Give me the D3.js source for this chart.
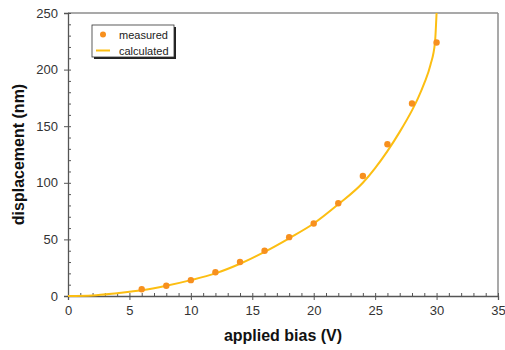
<!DOCTYPE html>
<html>
<head>
<meta charset="utf-8">
<script src="https://cdn.jsdelivr.net/npm/d3@7"></script>
<style>
  body { margin: 0; background: #fff; }
  text { font-family: "Liberation Sans", Arial, sans-serif; }
</style>
</head>
<body>
<svg id="svg" width="505" height="350"></svg>
<script>
// measured points (bias in V, displacement in nm)
let measuredBias = [6, 8, 10, 12, 14, 16, 18, 20, 22, 24, 26, 28, 30];
let measuredDisp = [6, 9, 14, 21, 30, 40, 52, 64, 82, 106, 134, 170, 224];

// calculated curve
let calcBias = [0, 2, 4, 6, 8, 10, 12, 14, 16, 18, 20, 22, 24, 25, 26, 27, 28, 28.5, 29, 29.5, 29.87, 30];
let calcDisp = [0, 0.5, 2.5, 5, 9, 14, 20, 28.5, 39, 51, 64, 81, 100, 113, 128, 145, 164, 175, 188, 204, 224, 250];

let xTicks = [0, 5, 10, 15, 20, 25, 30, 35];
let yTicks = [0, 50, 100, 150, 200, 250];

let svg = d3.select("#svg");
let plotLeft = 68, plotRight = 498, plotTop = 13, plotBottom = 296;

let x = d3.scaleLinear().domain([0, 35]).range([plotLeft, plotRight]);
let y = d3.scaleLinear().domain([0, 250]).range([plotBottom, plotTop]);

//frame: top and right lighter
svg.append("line").attr("x1", plotLeft).attr("x2", plotRight).attr("y1", plotTop).attr("y2", plotTop)
    .attr("stroke", "#8c8c8c").attr("stroke-width", 1.5);
svg.append("line").attr("x1", plotRight).attr("x2", plotRight).attr("y1", plotTop).attr("y2", plotBottom)
    .attr("stroke", "#8c8c8c").attr("stroke-width", 1.5);

//minor ticks (inside)
svg.append("g").attr("transform", "translate(0," + plotBottom + ")")
    .call(d3.axisBottom(x).tickValues(d3.range(0, 36, 1)).tickSize(-3).tickFormat(""))
    .call(g => g.select(".domain").remove())
    .selectAll("line").attr("stroke", "#555");
svg.append("g").attr("transform", "translate(" + plotLeft + ",0)")
    .call(d3.axisLeft(y).tickValues(d3.range(0, 251, 10)).tickSize(-3).tickFormat(""))
    .call(g => g.select(".domain").remove())
    .selectAll("line").attr("stroke", "#555");

//major ticks and labels
let xAxis = svg.append("g").attr("transform", "translate(0," + plotBottom + ")")
    .call(d3.axisBottom(x).tickValues(xTicks).tickSize(4).tickPadding(6).tickFormat(d3.format("d")));
xAxis.select(".domain").attr("stroke", "#555").attr("stroke-width", 1.3);
xAxis.selectAll("line").attr("stroke", "#555");
xAxis.selectAll("text").attr("font-size", 13).attr("fill", "#333")
    .style("font-family", "Liberation Sans, Arial, sans-serif");

let yAxis = svg.append("g").attr("transform", "translate(" + plotLeft + ",0)")
    .call(d3.axisLeft(y).tickValues(yTicks).tickSize(4).tickPadding(6).tickFormat(d3.format("d")));
yAxis.select(".domain").attr("stroke", "#555").attr("stroke-width", 1.3);
yAxis.selectAll("line").attr("stroke", "#555");
yAxis.selectAll("text").attr("font-size", 13).attr("fill", "#333")
    .style("font-family", "Liberation Sans, Arial, sans-serif");

//calculated curve
let calc = calcBias.map((b, i) => [b, calcDisp[i]]);
svg.append("path")
    .datum(calc)
    .attr("fill", "none")
    .attr("stroke", "#fcbe12")
    .attr("stroke-width", 2)
    .attr("d", d3.line().x(d => x(d[0])).y(d => y(d[1])).curve(d3.curveMonotoneX));

//measured points
svg.selectAll(".pt")
    .data(measuredBias.map((b, i) => [b, measuredDisp[i]]))
    .enter().append("circle")
    .attr("class", "pt")
    .attr("cx", d => x(d[0]))
    .attr("cy", d => y(d[1]))
    .attr("r", 3.2)
    .attr("fill", "#f7901e");

//axis titles
svg.append("text")
    .attr("x", (plotLeft + plotRight) / 2).attr("y", 341)
    .attr("text-anchor", "middle")
    .attr("font-size", 16).attr("font-weight", "bold").attr("fill", "#111")
    .text("applied bias (V)");
svg.append("text")
    .attr("transform", "translate(24," + ((plotTop + plotBottom) / 2) + ") rotate(-90)")
    .attr("text-anchor", "middle")
    .attr("font-size", 16).attr("font-weight", "bold").attr("fill", "#111")
    .text("displacement (nm)");

//legend with shadow
let legend = svg.append("g");
legend.append("rect").attr("x", 94).attr("y", 27).attr("width", 82).attr("height", 32).attr("fill", "#222");
legend.append("rect").attr("x", 92).attr("y", 25).attr("width", 82).attr("height", 32)
    .attr("fill", "#fff").attr("stroke", "#333").attr("stroke-width", 0.8);
legend.append("circle").attr("cx", 103).attr("cy", 34.5).attr("r", 3).attr("fill", "#f7901e");
legend.append("line").attr("x1", 96).attr("x2", 110).attr("y1", 50.5).attr("y2", 50.5)
    .attr("stroke", "#fcbe12").attr("stroke-width", 2);
legend.append("text").attr("x", 119).attr("y", 38.5).attr("font-size", 11).attr("fill", "#222").text("measured");
legend.append("text").attr("x", 119).attr("y", 55).attr("font-size", 11).attr("fill", "#222").text("calculated");
</script>
</body>
</html>
